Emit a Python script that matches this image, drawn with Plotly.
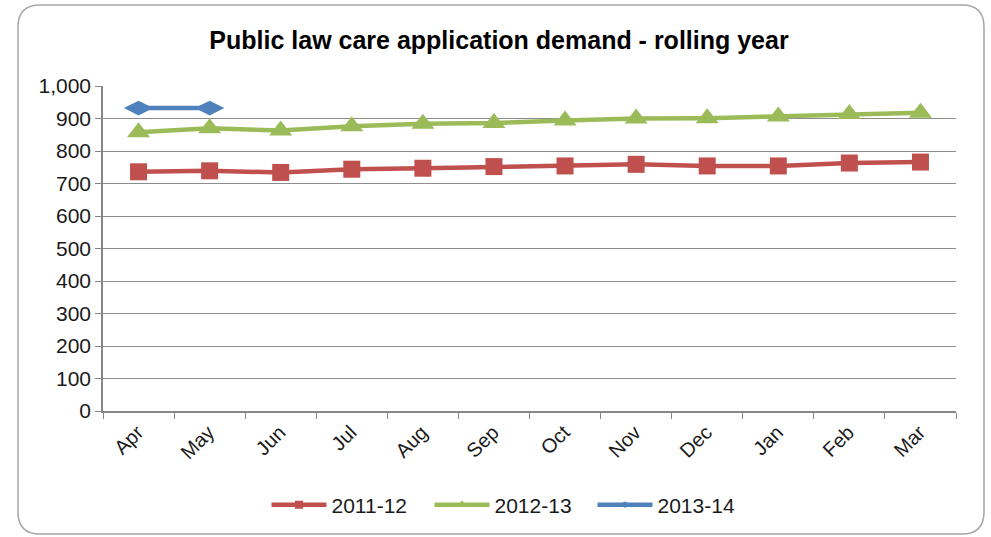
import plotly.graph_objects as go

months = ["Apr", "May", "Jun", "Jul", "Aug", "Sep", "Oct", "Nov", "Dec", "Jan", "Feb", "Mar"]
s2011 = [736, 739, 734, 744, 747, 752, 754, 759, 754, 754, 763, 766]
s2012 = [858, 870, 863, 876, 884, 886, 894, 900, 901, 906, 914, 918]
s2013 = [932, 932]
yticks = list(range(0, 1001, 100))
ylabels = [f"{v:,}" for v in yticks]

W, H = 991, 537
L, R, T, B = 103, 35, 86, 126
pw, ph = W - L - R, H - T - B

def px(x):
    return (x - L) / pw

def py(y):
    return (H - B - y) / ph

series = [
    ("2011-12", s2011, "#C0504D", "square", 17, 8),
    ("2012-13", s2012, "#9BBB59", "triangle-up", 20, 9),
    ("2013-14", s2013, "#4F81BD", "diamond-wide", 21, 9),
]

fig = go.Figure()
for name, vals, color, sym, size, lsize in series:
    fig.add_trace(go.Scatter(x=months[:len(vals)], y=vals, name=name, mode="lines+markers",
                             line=dict(color=color, width=4.5),
                             marker=dict(symbol=sym, size=size, color=color),
                             showlegend=False))
for name, vals, color, sym, size, lsize in series:
    fig.add_trace(go.Scatter(x=[None], y=[None], name=name, mode="lines+markers",
                             line=dict(color=color, width=4.5),
                             marker=dict(symbol=sym, size=lsize, color=color),
                             showlegend=True))

# rounded outer border
x0, x1, y0, y1, r = 18, 984, 5, 534, 22
path = (f"M {px(x0+r)},{py(y0)} L {px(x1-r)},{py(y0)} Q {px(x1)},{py(y0)} {px(x1)},{py(y0+r)} "
        f"L {px(x1)},{py(y1-r)} Q {px(x1)},{py(y1)} {px(x1-r)},{py(y1)} "
        f"L {px(x0+r)},{py(y1)} Q {px(x0)},{py(y1)} {px(x0)},{py(y1-r)} "
        f"L {px(x0)},{py(y0+r)} Q {px(x0)},{py(y0)} {px(x0+r)},{py(y0)} Z")
fig.add_shape(type="path", path=path, xref="paper", yref="paper",
              line=dict(color="#A6A6A6", width=1.5), layer="below")

fig.update_layout(
    width=W, height=H,
    margin=dict(l=L, r=R, t=T, b=B),
    paper_bgcolor="white", plot_bgcolor="white",
    font=dict(family="Liberation Sans, Arial, sans-serif", size=20, color="#1a1a1a"),
    title=dict(text="<b>Public law care application demand - rolling year</b>",
               x=px(499), xanchor="center", xref="paper", y=1 - 40 / H, yanchor="middle",
               font=dict(size=25, color="#000000")),
    showlegend=True,
    legend=dict(orientation="h", x=px(511), xanchor="center", y=-(505 - (H - B)) / ph,
                yanchor="middle", itemwidth=55, font=dict(size=21),
                entrywidth=93, entrywidthmode="pixels", tracegroupgap=0),
    xaxis=dict(type="category", range=[-0.5, 11.5], tickangle=-45,
               showline=True, linecolor="#868686", linewidth=1.5,
               ticks="outside", tickson="boundaries", ticklen=6, tickcolor="#868686",
               ticklabelshift=-1,
               showgrid=False, zeroline=False, fixedrange=True, automargin=False),
    yaxis=dict(range=[0, 1000], tickvals=yticks, ticktext=ylabels,
               showline=True, linecolor="#868686", linewidth=1.5,
               ticks="outside", ticklen=6, tickcolor="#868686",
               tickfont=dict(size=21),
               showgrid=True, gridcolor="#8C8C8C", gridwidth=1,
               zeroline=False, fixedrange=True, automargin=False),
)

fig.write_html("out.html", config={"displayModeBar": False},
               post_script="document.body.style.margin='0px';")
